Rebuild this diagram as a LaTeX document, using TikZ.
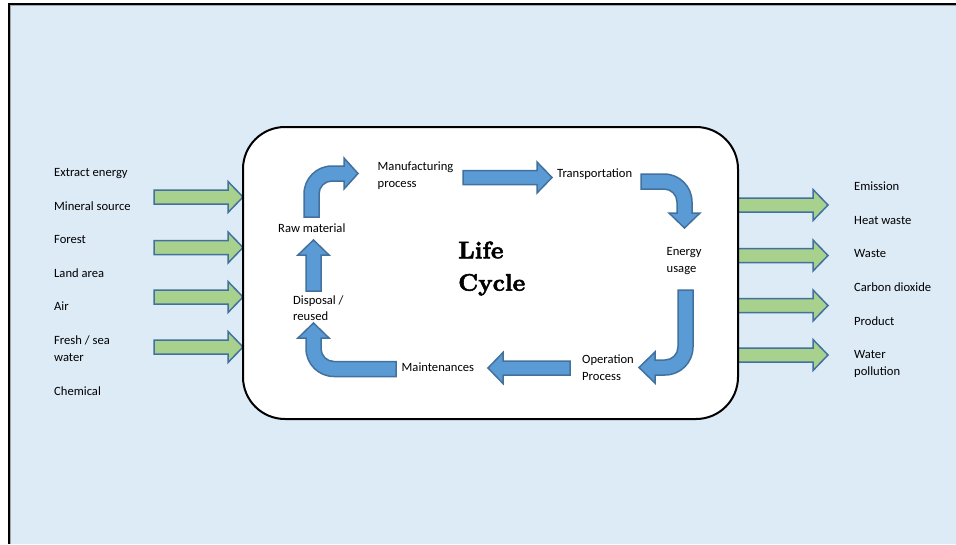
\documentclass[tikz,border=0pt]{standalone}
\usepackage{fontspec}
\newfontfamily\labelfont{Carlito}
\newfontfamily\titlefont{lmroman10-bold.otf}[FakeBold=2.2]
\definecolor{bgblue}{RGB}{221,235,247}
\definecolor{blockblue}{RGB}{91,155,213}
\definecolor{blockgreen}{RGB}{169,209,142}
\definecolor{edgeblue}{RGB}{65,113,156}

% straight block arrow: style, shaft start x, tip x, y
\newcommand{\harrow}[4]{%
  \pgfmathsetmacro\hb{#3-15*sign(#3-#2)}
  \draw[#1] (#2,#4-7) -- (\hb,#4-7) -- (\hb,#4-15.5) -- (#3,#4)
    -- (\hb,#4+15.5) -- (\hb,#4+7) -- (#2,#4+7) -- cycle;}

\begin{document}
\begin{tikzpicture}[x=1pt, y=-1pt,
  lbl/.style={anchor=base west, inner sep=0pt, align=left,
    font=\labelfont\fontsize{12.6pt}{16.5pt}\selectfont},
  bluearrow/.style={fill=blockblue, draw=edgeblue, line width=1.5pt, line join=miter},
  greenarrow/.style={fill=blockgreen, draw=edgeblue, line width=1.5pt, line join=miter}]
\useasboundingbox (0,0) rectangle (956,544);
% background
\fill[white] (0,0) rectangle (956,544);
\fill[bgblue] (9,4) rectangle (956,544);
\draw[gray!70, line width=0.6pt] (10.6,544) -- (10.6,5.6) -- (956,5.6);
\draw[black, line width=2.5pt] (9,544) -- (9,4) -- (956,4);

% inputs and outputs
\foreach \y in {197,247.5,297,347}
  \harrow{greenarrow}{154}{243}{\y};
\foreach \y in {205,255.5,305.5,355}
  \harrow{greenarrow}{738}{828}{\y};

% life cycle box
\node[draw, fill=white, line width=2pt, rounded corners=42pt, inner sep=0pt,
  minimum width=495pt, minimum height=292pt] (lcbox) at (490.5,273) {};

% left labels (multi-line nodes sit on their last baseline)
\node[lbl] (extract) at (54,176) {Extract energy};
\node[lbl] (mineral) at (54,210) {Mineral source};
\node[lbl] (forest) at (54,243.5) {Forest};
\node[lbl] (land) at (54,277) {Land area};
\node[lbl] (air) at (54,310.5) {Air};
\node[lbl] (water) at (54,361) {Fresh / sea\\water};
\node[lbl] (chemical) at (54,395) {Chemical};

% right labels
\node[lbl] (emission) at (854,190) {Emission};
\node[lbl] (heat) at (854,224) {Heat waste};
\node[lbl] (waste) at (854,257) {Waste};
\node[lbl] (carbon) at (854,291.5) {Carbon dioxide};
\node[lbl] (product) at (854,325) {Product};
\node[lbl] (pollution) at (854,375) {Water\\pollution};

% stages
\node[lbl] (manuf) at (377.5,187) {Manufacturing\\process};
\node[lbl] (transp) at (557,177.5) {Transportation};
\node[lbl] (energy) at (666.5,272) {Energy\\usage};
\node[lbl] (operation) at (582,380) {Operation\\Process};
\node[lbl] (maint) at (401.5,371) {Maintenances};
\node[lbl] (disposal) at (293,320.5) {Disposal /\\reused};
\node[lbl] (raw) at (278,232.5) {Raw material};
\node[anchor=base west, inner sep=0pt, align=left,
  font=\titlefont\fontsize{24pt}{32.4pt}\selectfont] (title) at (458,290.7) {Life\\Cycle};

% stage arrows
\harrow{bluearrow}{463}{552}{177.5};
\harrow{bluearrow}{570}{488}{368};
\draw[bluearrow] (306,291) -- (306,255) -- (298,255) -- (313.5,240) -- (329,255)
  -- (321,255) -- (321,291) -- cycle;
% raw material -> manufacturing
\draw[bluearrow] (304,217) -- (304,194) .. controls (304,178.5) and (316.5,166) .. (332,166)
  -- (344,166) -- (344,158) -- (358,173.5) -- (344,189) -- (344,181) -- (332,181)
  .. controls (324.8,181) and (319,186.8) .. (319,194) -- (319,217) -- cycle;
% transportation -> energy usage
\draw[bluearrow] (641,174) -- (664,174) .. controls (679.5,174) and (692,186.5) .. (692,202)
  -- (692,213) -- (700,213) -- (684.5,228) -- (669,213) -- (677,213) -- (677,202)
  .. controls (677,194.8) and (671.2,189) .. (664,189) -- (641,189) -- cycle;
% energy usage -> operation
\draw[bluearrow] (678,290) -- (693,290) -- (693,347) .. controls (693,362.5) and (680.5,375) .. (665,375)
  -- (655,375) -- (655,383) -- (639,367.5) -- (655,352) -- (655,360) -- (665,360)
  .. controls (672.2,360) and (678,354.2) .. (678,347) -- cycle;
% maintenances -> disposal
\draw[bluearrow] (396,361.5) -- (396,376.5) -- (334,376.5) .. controls (318.5,376.5) and (306,364) .. (306,348.5)
  -- (306,338) -- (298,338) -- (313.5,323) -- (329,338) -- (321,338) -- (321,348.5)
  .. controls (321,355.7) and (326.8,361.5) .. (334,361.5) -- cycle;
\end{tikzpicture}
\end{document}
